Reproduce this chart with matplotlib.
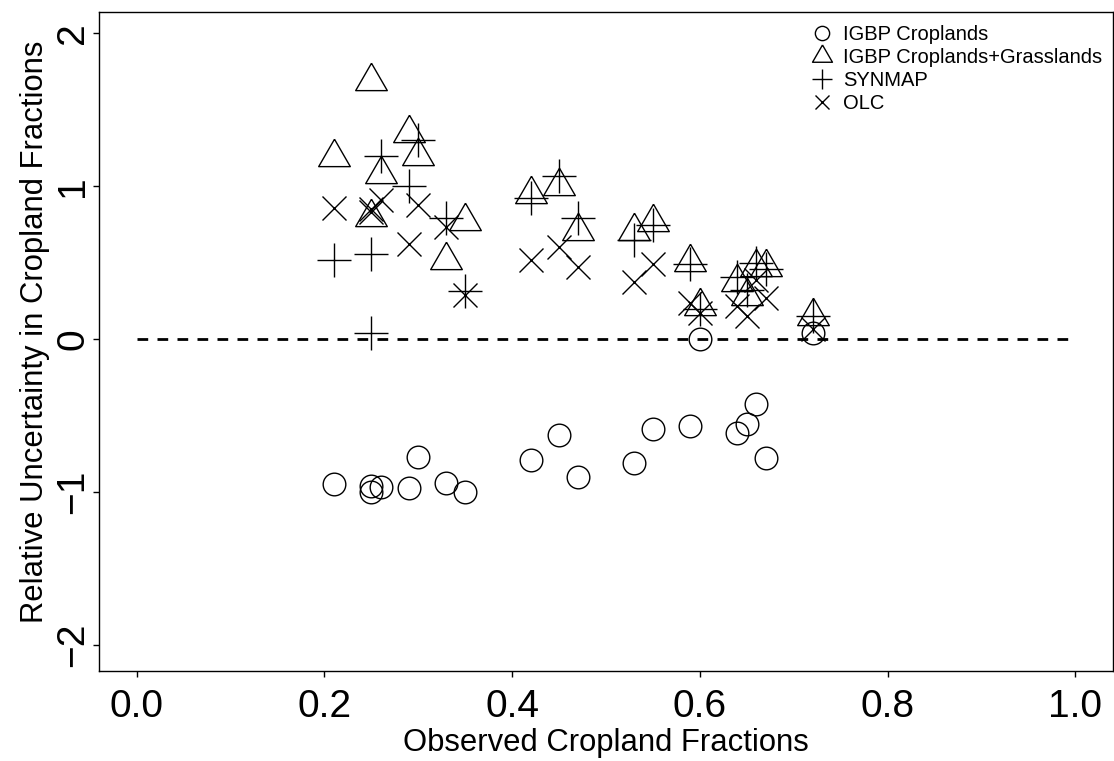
import matplotlib
matplotlib.use("Agg")
import matplotlib.pyplot as plt
from matplotlib.ticker import FixedLocator, FormatStrFormatter

plt.rcParams['font.family'] = ['Liberation Sans', 'DejaVu Sans']

# Observed cropland fractions (stations)
obs = [0.21, 0.25, 0.25, 0.26, 0.29, 0.30, 0.33, 0.35, 0.42, 0.45,
       0.47, 0.53, 0.55, 0.59, 0.60, 0.64, 0.65, 0.66, 0.67, 0.72]
# Relative uncertainty for each product
igbp_crop = [-0.95, -1.00, -0.96, -0.965, -0.97, -0.77, -0.94, -1.00, -0.79, -0.625,
             -0.90, -0.81, -0.585, -0.565, 0.00, -0.615, -0.555, -0.425, -0.78, 0.04]
igbp_cropgrass = [1.19, 1.69, 0.80, 1.08, 1.35, 1.20, 0.52, 0.77, 0.95, 1.00,
                  0.71, 0.71, 0.765, 0.505, 0.215, 0.375, 0.28, 0.475, 0.475, 0.15]
synmap = [0.52, 0.56, 0.04, 1.20, 1.00, 1.305, 0.79, 0.315, 0.925, 1.07,
          0.79, 0.65, 0.745, 0.49, 0.20, 0.405, 0.325, 0.50, 0.46, 0.15]
olc = [0.86, 0.85, 0.83, 0.91, 0.625, 0.875, 0.735, 0.29, 0.52, 0.60,
       0.47, 0.375, 0.49, 0.235, 0.17, 0.22, 0.155, 0.385, 0.27, 0.07]

series_labels = ["IGBP Croplands", "IGBP Croplands+Grasslands", "SYNMAP", "OLC"]
x_ticks = [0.0, 0.2, 0.4, 0.6, 0.8, 1.0]
y_ticks = [-2, -1, 0, 1, 2]

W, H = 1114, 761
fig = plt.figure(figsize=(W / 100, H / 100), dpi=100)
ax = fig.add_axes([99 / W, (H - 671) / H, (1113 - 99) / W, (671 - 12) / H])

tri = [(0, 1), (-0.866, -0.5), (0.866, -0.5), (0, 1)]
common = dict(linestyle='none', mfc='none', mec='black', mew=1.0)
h1, = ax.plot(obs, igbp_crop, marker='o', ms=16.3, label=series_labels[0], **common)
h2, = ax.plot(obs, igbp_cropgrass, marker=tri, ms=26.3, label=series_labels[1], **common)
h3, = ax.plot(obs, synmap, marker='+', ms=23.8, label=series_labels[2], **common)
h4, = ax.plot(obs, olc, marker='x', ms=16.6, label=series_labels[3], **common)

ax.plot([0, 1], [0, 0], color='black', lw=2.0, linestyle=(0, (3.85, 3.35)))

ax.set_xlim(-0.04, 1.04)
ax.set_ylim(-2.17, 2.14)
ax.xaxis.set_major_locator(FixedLocator(x_ticks))
ax.xaxis.set_major_formatter(FormatStrFormatter('%.1f'))
ax.yaxis.set_major_locator(FixedLocator(y_ticks))
ax.tick_params(direction='out', length=4.5, width=1.0, labelsize=28, color='black')
ax.tick_params(axis='x', pad=8.5)
ax.tick_params(axis='y', pad=1)
for lab in ax.get_yticklabels():
    lab.set_rotation(90)
    lab.set_va('center')
for sp in ax.spines.values():
    sp.set_linewidth(1.0)

ax.set_xlabel("Observed Cropland Fractions", fontsize=22.3, labelpad=2)
ax.set_ylabel("Relative Uncertainty in Cropland Fractions", fontsize=22.3, labelpad=4)
ax.yaxis.label.set_y((671 - 332) / 659)

leg = ax.legend(handles=[h1, h2, h3, h4], loc='upper left',
                bbox_to_anchor=(812 / W, 1 - 25 / H), bbox_transform=fig.transFigure,
                frameon=False, fontsize=14.5, markerscale=0.63, handlelength=1.0,
                handletextpad=0.55, labelspacing=0.2, borderpad=0, borderaxespad=0)

fig.savefig("out.png", dpi=100)
